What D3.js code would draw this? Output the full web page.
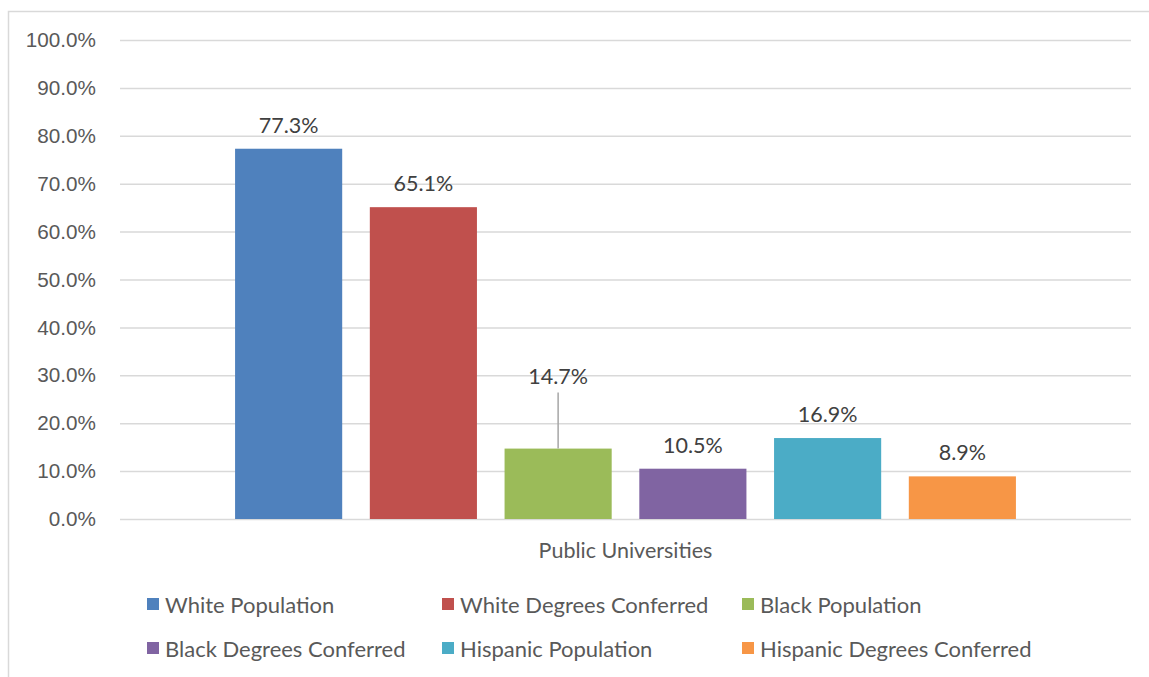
<!DOCTYPE html>
<html>
<head>
<meta charset="utf-8">
<script src="https://cdn.jsdelivr.net/npm/d3@7"></script>
<style>
  html, body { margin: 0; padding: 0; background: #fff; }
  svg { display: block; font-family: Lato, "Open Sans", sans-serif; }
</style>
</head>
<body>
<svg id="chart" width="1149" height="677"></svg>
<script>
// Share of population vs. degrees conferred at public universities
const categories = ["Public Universities"];
const seriesNames = [
  "White Population", "White Degrees Conferred", "Black Population",
  "Black Degrees Conferred", "Hispanic Population", "Hispanic Degrees Conferred"
];
const seriesValues = [77.3, 65.1, 14.7, 10.5, 16.9, 8.9];
const seriesColors = ["#4f81bd", "#c0504d", "#9bbb59", "#8064a2", "#4bacc6", "#f79646"];
const yTicks = [0, 10, 20, 30, 40, 50, 60, 70, 80, 90, 100];

const svg = d3.select("#chart");
const textColor = "#595959";

// Outer frame of the chart area
svg.append("path")
  .attr("d", "M8.5,677 L8.5,11.5 L1149,11.5")
  .attr("fill", "none")
  .attr("stroke", "#d9d9d9")
  .attr("stroke-width", 1.5);

const plot = { left: 120, right: 1131, top: 40, bottom: 519 };

const y = d3.scaleLinear().domain([0, 100]).range([plot.bottom, plot.top]);

const x0 = d3.scaleBand().domain(categories).range([plot.left, plot.right]);
const x1 = d3.scaleBand().domain(seriesNames)
  .range([0, x0.bandwidth()])
  .paddingInner(0.205)
  .paddingOuter(0.854);

// Horizontal gridlines and tick labels
const yAxis = d3.axisLeft(y)
  .tickValues(yTicks)
  .tickSize(-(plot.right - plot.left))
  .tickPadding(24)
  .tickFormat(d => d.toFixed(1) + "%");

const gy = svg.append("g")
  .attr("transform", `translate(${plot.left},0)`)
  .call(yAxis);
gy.select(".domain").remove();
gy.selectAll(".tick line").attr("stroke", "#d9d9d9").attr("stroke-width", 1.5);
gy.selectAll(".tick text")
  .attr("fill", textColor)
  .style("font-size", "20.7px");

// Bars
const groups = svg.selectAll("g.cat")
  .data(categories)
  .join("g")
  .attr("class", "cat")
  .attr("transform", d => `translate(${x0(d)},0)`);

const barData = seriesNames.map((name, i) => ({ name, value: seriesValues[i], color: seriesColors[i] }));

groups.selectAll("rect")
  .data(barData)
  .join("rect")
  .attr("x", d => x1(d.name))
  .attr("y", d => y(d.value))
  .attr("width", x1.bandwidth())
  .attr("height", d => y(0) - y(d.value))
  .attr("fill", d => d.color);

// Value labels; the Black Population label sits higher with a leader line
const labelGap = 24;
const labelLift = { "Black Population": 49 };
const labelY = d => y(d.value) - labelGap - (labelLift[d.name] || 0);

groups.selectAll("line.leader")
  .data(barData.filter(d => labelLift[d.name]))
  .join("line")
  .attr("class", "leader")
  .attr("x1", d => x1(d.name) + x1.bandwidth() / 2)
  .attr("x2", d => x1(d.name) + x1.bandwidth() / 2)
  .attr("y1", d => y(d.value))
  .attr("y2", d => labelY(d) + 17)
  .attr("stroke", "#a6a6a6")
  .attr("stroke-width", 1.5);

groups.selectAll("text.val")
  .data(barData)
  .join("text")
  .attr("class", "val")
  .attr("x", d => x1(d.name) + x1.bandwidth() / 2)
  .attr("y", labelY)
  .attr("text-anchor", "middle")
  .attr("dominant-baseline", "central")
  .attr("fill", "#404040")
  .style("font-size", "21.5px")
  .text(d => d.value.toFixed(1) + "%");

// Category label
groups.append("text")
  .attr("x", x0.bandwidth() / 2)
  .attr("y", 550)
  .attr("text-anchor", "middle")
  .attr("dominant-baseline", "central")
  .attr("fill", textColor)
  .style("font-size", "21.5px")
  .text(d => d);

// Legend: two rows of three
const legendCols = [147, 442, 742];
const legendRows = [604, 648];
const legend = svg.append("g");
const items = legend.selectAll("g")
  .data(barData)
  .join("g")
  .attr("transform", (d, i) => `translate(${legendCols[i % 3]},${legendRows[Math.floor(i / 3)]})`);
items.append("rect")
  .attr("x", 0).attr("y", -6)
  .attr("width", 12).attr("height", 12)
  .attr("fill", d => d.color);
items.append("text")
  .attr("x", 18)
  .attr("y", 0)
  .attr("dominant-baseline", "central")
  .attr("fill", textColor)
  .style("font-size", "22px")
  .text(d => d.name);
</script>
</body>
</html>
